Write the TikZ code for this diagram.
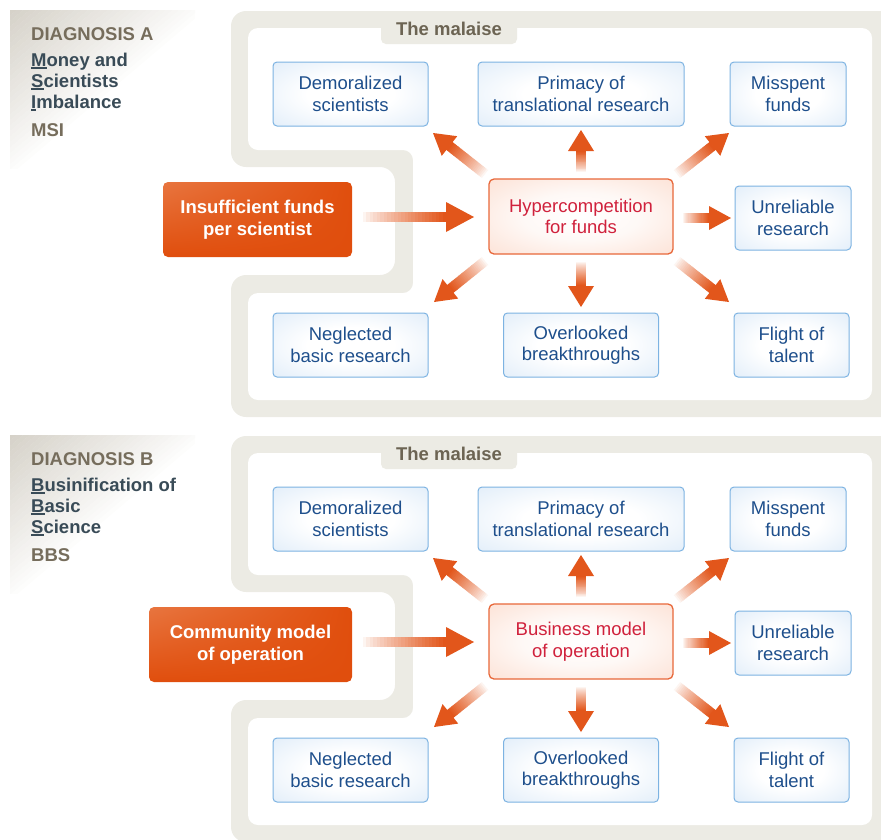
\documentclass[tikz,border=0pt]{standalone}
\usepackage{fontspec}
\setmainfont{Liberation Sans}
\usetikzlibrary{calc,shadings}
\definecolor{framegrey}{HTML}{ECEBE4}
\definecolor{labgrey}{HTML}{D6D2C9}
\definecolor{diagcol}{HTML}{766D5C}
\definecolor{namecol}{HTML}{394B57}
\definecolor{malcol}{HTML}{6C6453}
\definecolor{inor}{HTML}{E04E0D}
\definecolor{inlt}{HTML}{E8753F}
\definecolor{arrowor}{HTML}{E2561B}
\definecolor{cborder}{HTML}{E8683A}
\definecolor{ctext}{HTML}{D0213C}
\definecolor{cedge}{HTML}{FBD3C1}
\definecolor{bborder}{HTML}{7DB3E2}
\definecolor{bedge}{HTML}{D0E3F6}
\definecolor{btext}{HTML}{1E4F8C}
\pgfdeclareradialshading{blueshade}{\pgfpoint{0bp}{0bp}}{color(0bp)=(white); color(14bp)=(white); color(50bp)=(bedge); color(75bp)=(bedge)}
\pgfdeclareradialshading{pinkshade}{\pgfpoint{0bp}{0bp}}{color(0bp)=(white); color(16bp)=(white!85!cedge); color(50bp)=(cedge); color(75bp)=(cedge)}
\newcommand\ulet[1]{\setbox0\hbox{#1}\rlap{\rule[-2.6pt]{\wd0}{1.3pt}}#1}
\tikzset{
  txt/.style={font=\fontsize{18.5}{21.5}\selectfont},
  bluebox/.style={txt, draw=bborder, line width=1pt, rounded corners=4pt, shade, shading=blueshade, minimum height=64pt, inner sep=0pt, align=center, text=btext},
  centerbox/.style={txt, draw=cborder, line width=1.3pt, rounded corners=5pt, shade, shading=pinkshade, minimum width=184pt, minimum height=75pt, inner sep=0pt, align=center, text=ctext},
  inbox/.style={font=\fontsize{18.5}{21.5}\selectfont\bfseries, rounded corners=5pt, shade, upper left=inlt, upper right=inor, lower left=inor, lower right=inor, minimum height=75pt, inner sep=0pt, align=center, text=white},
  diagtxt/.style={font=\fontsize{18.5}{21.5}\selectfont\bfseries, text=diagcol, anchor=base west, inner sep=0pt},
  nametxt/.style={diagtxt, text=namecol},
  malaise/.style={font=\fontsize{18.5}{21.5}\selectfont\bfseries, text=malcol, inner sep=0pt, anchor=base},
}
% gradient arrow: #1 start, #2 tip, #3 head length, #4 head half width
\newcommand\garrow[4]{%
  \coordinate (gH) at ($(#2)!#3!(#1)$);
  \foreach \gi in {0,...,23}{%
    \pgfmathsetmacro\gta{\gi/24}%
    \pgfmathsetmacro\gtb{(\gi+1.3)/24}%
    \pgfmathsetmacro\gpc{min(100,6+94*(\gi/23)^0.85)}%
    \draw[line width=10pt, arrowor!\gpc!white] ($(#1)!\gta!(gH)$) -- ($(#1)!\gtb!(gH)$);
  }
  \fill[arrowor] ($(gH)!#4!90:(#2)$) -- (#2) -- ($(gH)!#4!-90:(#2)$) -- cycle;
}
% diagonal fading corner behind the diagnosis label
\newcommand\labelfade{%
  \foreach \gi in {0,...,29}{%
    \pgfmathsetmacro\ga{\gi/30}%
    \pgfmathsetmacro\gb{(\gi+1.05)/30}%
    \pgfmathsetmacro\gpc{100*(1-\ga)^0.9}%
    \fill[labgrey!\gpc!white] ({10+\ga*195},10) -- ({10+\gb*195},10) -- (10,{10+\gb*165}) -- (10,{10+\ga*165}) -- cycle;
  }
}
\newcommand\drawpanel[9]{%
  \begin{scope}
  \clip (10,10) rectangle (195,168);
  \labelfade
  \end{scope}
  \fill[framegrey, rounded corners=15pt] (231,11) -- (900,11) -- (900,417) -- (231,417) -- (231,275) -- (395,275) -- (395,167) -- (231,167) -- cycle;
  \fill[white, rounded corners=10pt] (248,28) -- (872,28) -- (872,400) -- (248,400) -- (248,293) -- (413,293) -- (413,150) -- (248,150) -- cycle;
  \fill[framegrey, rounded corners=5pt] (381,18) -- (381,44) -- (517,44) -- (517,18) -- cycle;
  \node[malaise] (#1mal) at (449,35) {The malaise};
  \node[diagtxt] (#1diag) at (31,40) {DIAGNOSIS #2};
  \node[nametxt] (#1n1) at (31,66) {#3};
  \node[nametxt] (#1n2) at (31,87) {#4};
  \node[nametxt] (#1n3) at (31,108) {#5};
  \node[diagtxt] (#1abb) at (31,136) {#6};
  \node[inbox, minimum width=#9pt] (#1in) at ({352-#9/2},219.5) {#7};
  \node[centerbox] (#1c) at (581,216.5) {#8};
  \node[bluebox, minimum width=155pt] (#1b1) at (350.5,94) {Demoralized\\scientists};
  \node[bluebox, minimum width=206pt] (#1b2) at (581,94) {Primacy of\\translational research};
  \node[bluebox, minimum width=116pt] (#1b3) at (788,94) {Misspent\\funds};
  \node[bluebox, minimum width=116pt] (#1b4) at (793,218) {Unreliable\\research};
  \node[bluebox, minimum width=115pt] (#1b5) at (791.5,345) {Flight of\\talent};
  \node[bluebox, minimum width=155pt] (#1b6) at (350.5,345) {Neglected\\basic research};
  \node[bluebox, minimum width=155pt] (#1b7) at (581,345) {Overlooked\\breakthroughs};
  \coordinate (#1s0) at (363,217); \coordinate (#1t0) at (474,217);
  \coordinate (#1s1) at (581,172); \coordinate (#1t1) at (581,130);
  \coordinate (#1s2) at (581,262); \coordinate (#1t2) at (581,307);
  \coordinate (#1s3) at (683,218); \coordinate (#1t3) at (731,218);
  \coordinate (#1s4) at (485,174); \coordinate (#1t4) at (433,133);
  \coordinate (#1s5) at (677,174); \coordinate (#1t5) at (729,133);
  \coordinate (#1s6) at (485,261); \coordinate (#1t6) at (434,302);
  \coordinate (#1s7) at (677,261); \coordinate (#1t7) at (729,302);
  \garrow{#1s0}{#1t0}{28pt}{15pt}
  \garrow{#1s1}{#1t1}{21pt}{13pt}
  \garrow{#1s2}{#1t2}{21pt}{13pt}
  \garrow{#1s3}{#1t3}{22pt}{12pt}
  \garrow{#1s4}{#1t4}{21pt}{12.5pt}
  \garrow{#1s5}{#1t5}{21pt}{12.5pt}
  \garrow{#1s6}{#1t6}{21pt}{12.5pt}
  \garrow{#1s7}{#1t7}{21pt}{12.5pt}
}
\begin{document}
\begin{tikzpicture}[x=1pt,y=-1pt]
\path[use as bounding box] (0,0) rectangle (881,839);
\clip (0,0) rectangle (881,839);
\begin{scope}
\drawpanel{a}{A}{\ulet{M}oney and}{\ulet{S}cientists}{\ulet{I}mbalance}{MSI}{Insufficient funds\\per scientist}{Hypercompetition\\for funds}{189}
\end{scope}
\begin{scope}[shift={(0,425)}]
\drawpanel{b}{B}{\ulet{B}usinification of}{\ulet{B}asic}{\ulet{S}cience}{BBS}{Community model\\of operation}{Business model\\of operation}{203}
\end{scope}
\end{tikzpicture}
\end{document}
